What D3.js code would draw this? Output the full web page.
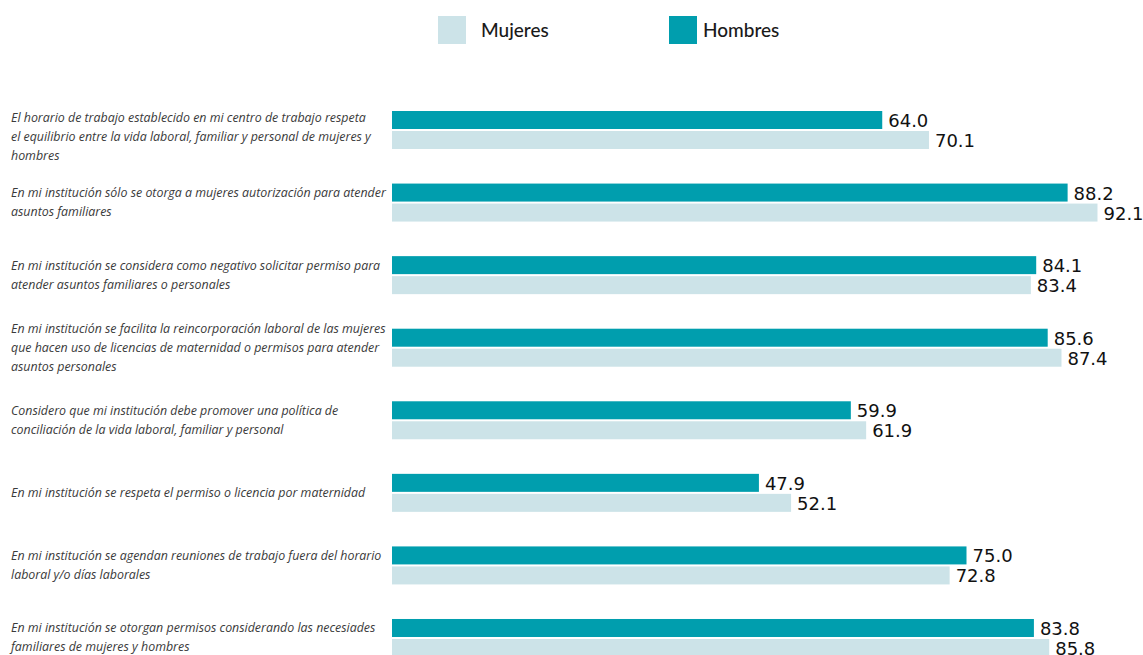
<!DOCTYPE html>
<html>
<head>
<meta charset="utf-8">
<script src="https://cdn.jsdelivr.net/npm/d3@7"></script>
<style>
  body { margin: 0; background: #fff; }
  svg { display: block; }
</style>
</head>
<body>
<svg></svg>
<script>
let width = 1143,
    height = 655;

// categories (label lines as shown in the chart)
let categories = [
    ["El horario de trabajo establecido en mi centro de trabajo respeta", "el equilibrio entre la vida laboral, familiar y personal de mujeres y", "hombres"],
    ["En mi institución sólo se otorga a mujeres autorización para atender", "asuntos familiares"],
    ["En mi institución se considera como negativo solicitar permiso para", "atender asuntos familiares o personales"],
    ["En mi institución se facilita la reincorporación laboral de las mujeres", "que hacen uso de licencias de maternidad o permisos para atender", "asuntos personales"],
    ["Considero que mi institución debe promover una política de", "conciliación de la vida laboral, familiar y personal"],
    ["En mi institución se respeta el permiso o licencia por maternidad"],
    ["En mi institución se agendan reuniones de trabajo fuera del horario", "laboral y/o días laborales"],
    ["En mi institución se otorgan permisos considerando las necesiades", "familiares de mujeres y hombres"]
];
let series = ["Hombres", "Mujeres"];
let hombres = [64.0, 88.2, 84.1, 85.6, 59.9, 47.9, 75.0, 83.8];
let mujeres = [70.1, 92.1, 83.4, 87.4, 61.9, 52.1, 72.8, 85.8];

let colors = { Hombres: "#009eae", Mujeres: "#cce3e8" };

let svg = d3.select("svg")
    .attr("width", width)
    .attr("height", height);

let rows = categories.map((c, i) => ({ id: i, lines: c, Hombres: hombres[i], Mujeres: mujeres[i] }));

let x = d3.scaleLinear()
    .domain([0, 100])
    .range([392, 1158]);

let y = d3.scaleBand()
    .domain(rows.map(d => d.id))
    .range([111, 111 + 72.57 * 8]);

let ySub = d3.scaleBand()
    .domain(series)
    .range([0, 38])
    .paddingInner(0.1);

// Legend
let legendX = { Mujeres: 438, Hombres: 669 };
let legend = svg.append("g").attr("class", "legend");
["Mujeres", "Hombres"].forEach(s => {
    legend.append("rect")
        .attr("x", legendX[s])
        .attr("y", 16)
        .attr("width", 28)
        .attr("height", 28)
        .attr("fill", colors[s]);
    legend.append("text")
        .attr("x", legendX[s] + (s == "Mujeres" ? 43 : 34))
        .attr("y", 37)
        .attr("font-family", "Lato, 'Open Sans', sans-serif")
        .attr("font-size", "19px")
        .attr("font-weight", 500)
        .attr("fill", "#1a1a1a")
        .text(s);
});

let groups = svg.append("g")
    .selectAll("g")
    .data(rows)
    .enter()
    .append("g")
    .attr("transform", d => "translate(0," + y(d.id) + ")");

// category labels
groups.append("text")
    .attr("font-family", "'Open Sans', sans-serif")
    .attr("font-style", "italic")
    .attr("font-size", "12.4px")
    .attr("fill", "#3a3a3a")
    .each(function (d) {
        let n = d.lines.length;
        let lh = 19;
        let mid = d.id == 0 ? 26 : 19;
        d3.select(this).selectAll("tspan")
            .data(d.lines)
            .enter()
            .append("tspan")
            .attr("x", 11)
            .attr("y", (l, i) => mid + (i - (n - 1) / 2) * lh + 4)
            .text(l => l);
    });

// bars
groups.selectAll("rect")
    .data(d => series.map(s => ({ key: s, value: d[s] })))
    .enter()
    .append("rect")
    .attr("x", x(0))
    .attr("y", d => ySub(d.key))
    .attr("width", d => x(d.value) - x(0))
    .attr("height", ySub.bandwidth())
    .attr("fill", d => colors[d.key]);

// value labels
groups.selectAll("text.value")
    .data(d => series.map(s => ({ key: s, value: d[s] })))
    .enter()
    .append("text")
    .attr("class", "value")
    .attr("x", d => x(d.value) + 6)
    .attr("y", d => ySub(d.key) + ySub.bandwidth() / 2 + 7)
    .attr("font-family", "'DejaVu Sans', sans-serif")
    .attr("font-size", "18px")
    .attr("fill", "#111")
    .text(d => d3.format(".1f")(d.value));
</script>
</body>
</html>
